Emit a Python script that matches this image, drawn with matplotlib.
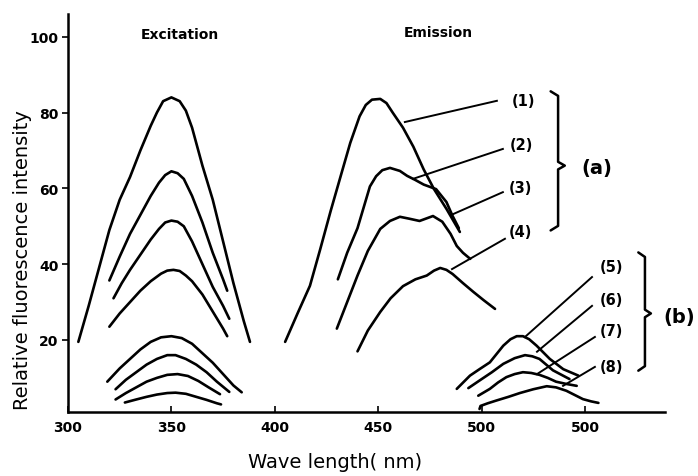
import matplotlib
matplotlib.use("Agg")
import matplotlib.pyplot as plt
from matplotlib.lines import Line2D

# ---------------- data ----------------
# Excitation spectra (1)-(8)
ex1_x = [305, 310, 315, 320, 325, 330, 335, 340, 343, 346, 350, 354, 357, 360, 365, 370, 375, 380, 385, 388]
ex1_y = [19.5, 29, 39, 49, 57, 63, 70, 76.5, 80, 83, 84, 83, 80.5, 76, 66, 57, 46, 35, 25, 19.5]
ex2_x = [320, 325, 330, 335, 340, 344, 347, 350, 353, 356, 360, 365, 370, 375, 377]
ex2_y = [35.7, 42, 48, 53, 58, 61.5, 63.5, 64.5, 64, 62.5, 58, 51, 43, 36, 33]
ex3_x = [322, 326, 330, 335, 340, 344, 347, 350, 353, 356, 360, 365, 370, 375, 378]
ex3_y = [31, 35, 38.5, 42.5, 46.5, 49.3, 51, 51.5, 51.2, 50, 46, 40, 34, 29, 25.6]
ex4_x = [320, 325, 330, 335, 340, 345, 348, 351, 354, 357, 360, 365, 370, 375, 377]
ex4_y = [23.5, 27, 30, 33, 35.5, 37.5, 38.3, 38.5, 38.2, 37, 35.5, 32, 27.5, 23, 21]
ex5_x = [319, 325, 330, 335, 340, 345, 350, 355, 360, 365, 370, 375, 380, 384]
ex5_y = [9, 12.5, 15, 17.5, 19.5, 20.7, 21, 20.5, 19, 16.5, 14, 11, 8, 6.2]
ex6_x = [323, 328, 333, 338, 343, 348, 352, 357, 362, 367, 372, 378]
ex6_y = [7, 9.5, 11.5, 13.5, 15, 16, 16, 15, 13.5, 11.5, 9, 6.3]
ex7_x = [323, 328, 333, 338, 343, 348, 353, 358, 363, 368, 373.5]
ex7_y = [4.3, 6, 7.5, 9, 10, 10.8, 11, 10.5, 9.2, 7.5, 5.7]
ex8_x = [327.5, 333, 338, 343, 348, 352, 357, 362, 367, 372, 374]
ex8_y = [3.5, 4.3, 5, 5.6, 6, 6.1, 5.8, 5, 4.2, 3.3, 3]

# Emission spectra (a): (1)-(4)
em1_x = [405, 411, 417, 422, 427, 432, 436.5, 441, 444, 447, 451, 454, 457, 462, 467, 472, 477, 483, 489.5]
em1_y = [19.5, 27, 34.3, 44, 54, 63.5, 72, 79, 82, 83.4, 83.6, 82.5, 80, 76, 71, 65, 59.8, 54.6, 48.5]
em2_x = [430.5, 435, 440, 446, 449, 452, 455.7, 460.5, 464, 468, 472, 478, 483, 486, 489]
em2_y = [36, 43, 49.5, 60.5, 63.2, 64.8, 65.4, 64.6, 63.3, 62.2, 61, 59.8, 56.4, 52.7, 49.5]
em3_x = [430, 435, 440, 445, 451, 455.7, 460.5, 465, 470, 476.5, 481, 485, 488, 491, 494.5]
em3_y = [23, 30, 37, 43.5, 49.3, 51.4, 52.5, 52, 51.4, 52.7, 51.2, 48, 44.8, 43, 41.4]
em4_x = [440, 445, 451, 456, 462, 468, 473.5, 477, 480, 483, 486, 491, 496, 501, 506.5]
em4_y = [17, 22.5, 27.4, 31, 34.2, 36, 37, 38.3, 39, 38.5, 37.4, 35, 32.7, 30.5, 28.2]

# Emission spectra (b): (5)-(8)
em5_x = [488, 494.4, 499, 504, 510.5, 514, 517, 520, 523, 526.6, 533, 539.5, 546.8]
em5_y = [7.1, 10.6, 12.3, 14.1, 18.5, 20.2, 21, 21, 20.2, 18.5, 15, 12.3, 10.6]
em6_x = [493.6, 499, 505, 510.5, 516, 521, 524.5, 528, 534.5, 542.5]
em6_y = [7.3, 9.3, 11.5, 13.7, 15.2, 16, 15.7, 15, 12, 9.7]
em7_x = [498.4, 504, 508, 512, 516, 520, 524, 528, 532, 536, 541, 546]
em7_y = [5.3, 7.1, 8.8, 10.2, 11, 11.5, 11.3, 10.8, 10, 9, 8.4, 7.9]
em8_x = [499, 499.5, 503, 507, 513, 518.5, 525, 531.5, 536, 541, 545, 549, 553, 556.5]
em8_y = [1.8, 2.6, 3.3, 4, 5, 6, 7, 7.8, 7.5, 6.6, 5.5, 4.4, 3.8, 3.4]

x_ticks = [300, 350, 400, 450, 500, 550]
x_tick_labels = ["300", "350", "400", "450", "500", "500"]
y_ticks = [20, 40, 60, 80, 100]
y_tick_labels = ["20", "40", "60", "80", "100"]

curve_labels = ["(1)", "(2)", "(3)", "(4)", "(5)", "(6)", "(7)", "(8)"]
# label anchor (text centre) and leader line start on the curve
label_pos = [(520.3, 83.1), (519.4, 71.5), (518.6, 60.3), (518.6, 48.5),
             (563, 39.5), (563, 30.8), (563, 22.4), (563, 13.1)]
leader_from = [(462.9, 77.5), (466.8, 62.5), (486.2, 53.2), (485.7, 38.7),
               (521, 20.8), (526.8, 16.9), (526.8, 11.0), (539.4, 7.9)]
leader_to = [(507.4, 83.1), (510.3, 70.4), (510.3, 59.0), (511.3, 46.7),
             (553.4, 36.6), (553.4, 29.0), (554.8, 20.8), (554.8, 12.9)]

# ---------------- figure ----------------
fig = plt.figure(figsize=(6.98, 4.77), dpi=100)
ax = fig.add_axes([68 / 698, 1 - 413 / 477, (665 - 68) / 698, (413 - 15) / 477])
ax.set_xlim(300, 588.7)
ax.set_ylim(1.0, 106)

lw = 1.9
for xs, ys in [(ex1_x, ex1_y), (ex2_x, ex2_y), (ex3_x, ex3_y), (ex4_x, ex4_y),
               (ex5_x, ex5_y), (ex6_x, ex6_y), (ex7_x, ex7_y), (ex8_x, ex8_y),
               (em1_x, em1_y), (em2_x, em2_y), (em3_x, em3_y), (em4_x, em4_y),
               (em5_x, em5_y), (em6_x, em6_y), (em7_x, em7_y), (em8_x, em8_y)]:
    ax.plot(xs, ys, color="black", lw=lw, solid_capstyle="round", solid_joinstyle="round")

for lab, (tx, ty), p0, p1 in zip(curve_labels, label_pos, leader_from, leader_to):
    ax.plot([p0[0], p1[0]], [p0[1], p1[1]], color="black", lw=1.4, clip_on=False)
    ax.text(tx, ty, lab, ha="center", va="center", fontsize=10.5, fontweight="bold",
            clip_on=False)

# curly braces grouping the labels
def brace(x, y_top, y_bot, y_mid, w):
    xs = [x - w, x, x, x + w * 0.9, x, x, x - w]
    ys = [y_top + 0.6, y_top - 0.6, y_mid + 1.0, y_mid, y_mid - 1.0, y_bot + 0.6, y_bot - 0.6]
    ax.add_line(Line2D(xs, ys, color="black", lw=1.8, clip_on=False,
                       solid_joinstyle="round", solid_capstyle="round"))

brace(537.0, 85.0, 49.5, 66.0, 3.6)
brace(579.0, 42.5, 12.5, 27.0, 3.2)

ax.text(555.8, 65.6, "(a)", ha="center", va="center", fontsize=14, fontweight="bold")
ax.text(595.5, 26.3, "(b)", ha="center", va="center", fontsize=14, fontweight="bold",
        clip_on=False)

ax.text(354.2, 100.7, "Excitation", ha="center", va="center", fontsize=10, fontweight="bold")
ax.text(478.9, 101.2, "Emission", ha="center", va="center", fontsize=10, fontweight="bold")

for s in ["top", "right"]:
    ax.spines[s].set_visible(False)
ax.spines["left"].set_linewidth(1.8)
ax.spines["bottom"].set_linewidth(1.8)

ax.set_xticks(x_ticks)
ax.set_xticklabels(x_tick_labels, fontsize=10, fontweight="bold")
ax.set_yticks(y_ticks)
ax.set_yticklabels(y_tick_labels, fontsize=10, fontweight="bold")
ax.tick_params(axis="x", direction="in", length=4, width=1.2, pad=6)
ax.tick_params(axis="y", direction="out", length=4, width=1.2, pad=3)

fig.text(335 / 698, 1 - 463 / 477, "Wave length( nm)", ha="center", va="center", fontsize=14)
fig.text(23 / 698, 1 - 260 / 477, "Relative fluorescence intensity", ha="center", va="center",
         fontsize=14, rotation=90)

fig.savefig("out.png", dpi=100)
